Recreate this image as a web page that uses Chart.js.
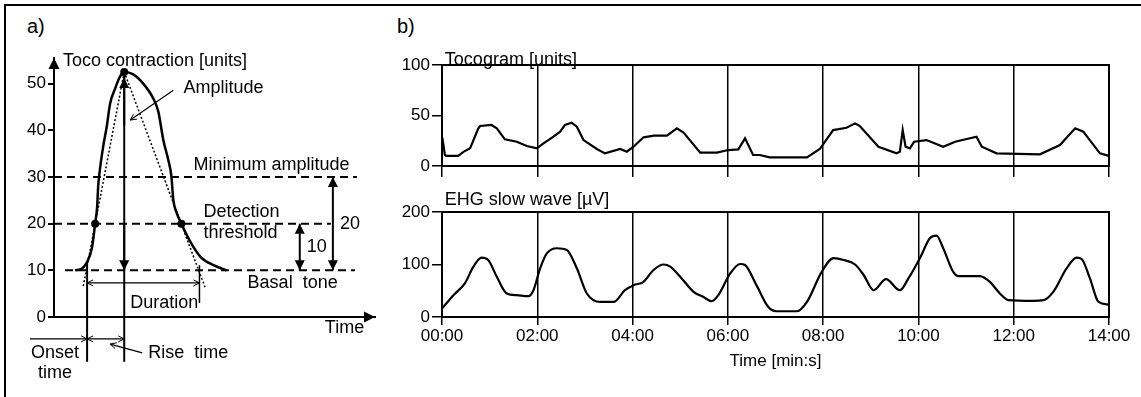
<!DOCTYPE html>
<html>
<head>
<meta charset="utf-8">
<script src="https://cdn.jsdelivr.net/npm/chart.js@4.4.1/dist/chart.umd.min.js"></script>
<style>
  html, body { margin: 0; padding: 0; background: #fff; }
  body { width: 1141px; height: 397px; position: relative; overflow: hidden; font-family: "Liberation Sans", Arial, sans-serif; }
  .frame { position: absolute; left: 4px; top: 4px; width: 1200px; height: 500px; border-left: 2px solid #000; border-top: 2px solid #000; }
  .panel-label { position: absolute; font-size: 20px; line-height: 20px; color: #000; }
  canvas { position: absolute; }
</style>
</head>
<body>
<div class="frame"></div>
<div class="panel-label" style="left:27px; top:16px;">a)</div>
<div class="panel-label" style="left:397px; top:16px;">b)</div>
<canvas id="chart-a" width="380" height="397" style="left:0; top:0;"></canvas>
<canvas id="chart-toco" width="761" height="150" style="left:380px; top:40px;"></canvas>
<canvas id="chart-ehg" width="761" height="207" style="left:380px; top:190px;"></canvas>
<script>
const FONT = '"Liberation Sans", Arial, sans-serif';

// a) schematic contraction (time in arbitrary units, toco in units)
const curveTime = [2.1, 2.8, 3.3, 3.8, 4.1, 4.3, 4.4, 4.5, 4.9, 5.25, 5.6, 6.1, 6.6, 7.0, 7.9, 8.9, 9.9, 10.4, 10.9, 11.4, 11.7, 11.9, 12.2, 12.7, 13.6, 14.6, 15.9, 17.2];
const curveToco = [10, 10.4, 11.8, 15, 20, 23.6, 27.9, 30.2, 36.5, 40.7, 45.8, 49, 51.6, 52.5, 52, 50, 46.8, 44, 37.9, 33.6, 30.2, 25, 22.5, 20, 16.1, 12.9, 11.1, 10];
const levelValues = [30, 20, 10];
const levelStart = [0, 0, 1.1];
const levelEnd = [30.2, 27.6, 30];
const dotTime = [4.1, 12.7, 7.0];
const dotToco = [20, 20, 52.5];
const tangentFootTime = [2.9, 15.05];
const tangentFootToco = 6.4;
const onsetTime = 3.3;
const peakTime = 7.0;
const peakToco = 52.5;
const endTime = 14.5;
const yTicksA = [0, 10, 20, 30, 40, 50];

// b) recordings (time in minutes)
const timeLabels = ["00:00", "02:00", "04:00", "06:00", "08:00", "10:00", "12:00", "14:00"];
const tocoTime = [0, 0.01, 0.06, 0.09, 0.34, 0.45, 0.59, 0.69, 0.76, 0.8, 1.04, 1.15, 1.32, 1.57, 1.78, 1.99, 2.13, 2.34, 2.48, 2.58, 2.72, 2.83, 2.97, 3.25, 3.42, 3.74, 3.88, 4.02, 4.23, 4.45, 4.72, 4.93, 5.07, 5.42, 5.77, 6.01, 6.22, 6.36, 6.53, 6.67, 6.88, 7.66, 7.93, 8.21, 8.49, 8.67, 8.77, 9.16, 9.54, 9.61, 9.67, 9.73, 9.82, 9.91, 10.17, 10.52, 10.77, 11.22, 11.33, 11.64, 12.55, 12.97, 13.29, 13.46, 13.81, 14];
const tocoValue = [28, 27.4, 10.9, 10, 10, 14, 17.5, 29, 37, 39.6, 40.6, 37.3, 26.4, 24, 19.8, 17.5, 22.4, 29, 34, 40.6, 42.9, 38.9, 25.7, 16.8, 12.5, 16.8, 14.2, 19.1, 28.4, 30, 30, 37.3, 33, 13.2, 13.2, 15.8, 16.5, 27.4, 10.9, 10.9, 8.6, 8.6, 16.8, 35.6, 37.9, 42.2, 39.6, 19.1, 12.5, 14, 35.6, 19.1, 17.5, 24, 25.7, 19.1, 24, 29, 19.1, 12.5, 11.6, 20.8, 37.3, 34, 12.5, 9.9];
const ehgTime = [0, 0.24, 0.48, 0.66, 0.83, 0.97, 1.15, 1.36, 1.57, 1.81, 1.92, 2.06, 2.2, 2.41, 2.62, 2.83, 3.04, 3.32, 3.6, 3.84, 4.02, 4.23, 4.44, 4.65, 4.79, 5.0, 5.28, 5.49, 5.66, 5.8, 6.05, 6.26, 6.36, 6.6, 6.85, 7.02, 7.45, 7.66, 7.97, 8.22, 8.43, 8.67, 8.85, 9.06, 9.32, 9.61, 9.79, 10.03, 10.24, 10.38, 10.52, 10.73, 10.84, 11.29, 11.5, 11.71, 11.89, 12.41, 12.62, 12.83, 13.11, 13.32, 13.43, 13.6, 13.78, 14];
const ehgValue = [16, 41.6, 64, 96, 113, 108.6, 76.6, 44.8, 41.6, 39.7, 51, 92.7, 121, 131, 127.8, 92.7, 44.8, 28.7, 28.7, 51, 60.7, 67, 89.5, 100, 96, 76.6, 48, 38, 30, 41.6, 83, 101, 99, 60.7, 19, 11, 11, 28.7, 86, 112, 108.6, 100, 80, 51, 72, 51, 73.5, 112, 150, 155, 131, 86, 78, 78, 67, 44.8, 32, 30.7, 32, 48, 92.7, 113, 110, 73.5, 28.7, 23.7];

const points = (xs, ys) => xs.map((x, i) => ({ x, y: ys[i] }));

function arrowHead(ctx, x1, y1, x2, y2, len, half, filled) {
  const a = Math.atan2(y2 - y1, x2 - x1);
  const bx = x2 - len * Math.cos(a);
  const by = y2 - len * Math.sin(a);
  const nx = -Math.sin(a) * half;
  const ny = Math.cos(a) * half;
  ctx.beginPath();
  if (filled) {
    ctx.moveTo(x2, y2);
    ctx.lineTo(bx + nx, by + ny);
    ctx.lineTo(bx - nx, by - ny);
    ctx.closePath();
    ctx.fill();
  } else {
    ctx.moveTo(bx + nx, by + ny);
    ctx.lineTo(x2, y2);
    ctx.lineTo(bx - nx, by - ny);
    ctx.stroke();
  }
}

// segment: [t1, v1, t2, v2, headStart, headEnd, filled, width]
function drawSegments(chart, segments) {
  const { ctx, scales: { x, y } } = chart;
  ctx.save();
  ctx.strokeStyle = "#000";
  ctx.fillStyle = "#000";
  segments.forEach(([t1, v1, t2, v2, hs, he, filled, w]) => {
    const x1 = x.getPixelForValue(t1), y1 = y.getPixelForValue(v1);
    const x2 = x.getPixelForValue(t2), y2 = y.getPixelForValue(v2);
    ctx.lineWidth = w;
    ctx.beginPath();
    ctx.moveTo(x1, y1);
    ctx.lineTo(x2, y2);
    ctx.stroke();
    const len = filled ? 10 : 6;
    const half = filled ? 5 : 3;
    ctx.lineWidth = 1;
    if (hs) arrowHead(ctx, x2, y2, x1, y1, len, half, filled);
    if (he) arrowHead(ctx, x1, y1, x2, y2, len, half, filled);
  });
  ctx.restore();
}

// text: [string, t, v, align]
function drawTexts(chart, texts, size) {
  const { ctx, scales: { x, y } } = chart;
  ctx.save();
  ctx.fillStyle = "#000";
  ctx.font = size + "px " + FONT;
  ctx.textBaseline = "middle";
  texts.forEach(([s, t, v, align]) => {
    ctx.textAlign = align || "left";
    ctx.fillText(s, x.getPixelForValue(t), y.getPixelForValue(v));
  });
  ctx.restore();
}

const schematicPlugin = {
  id: "schematic",
  afterDatasetsDraw(chart) {
    const { ctx, chartArea } = chart;
    ctx.save();
    ctx.fillStyle = "#000";
    arrowHead(ctx, chartArea.left, chartArea.top + 12, chartArea.left, chartArea.top, 11, 5.5, true);
    arrowHead(ctx, chartArea.right - 12, chartArea.bottom, chartArea.right, chartArea.bottom, 11, 5.5, true);
    ctx.restore();

    drawSegments(chart, [
      [peakTime, peakToco, peakTime, -9.6, false, false, true, 2],
      [peakTime, 41, peakTime, 51.2, false, true, true, 2],
      [peakTime, 20, peakTime, 10, false, true, true, 2],
      [onsetTime, 11.6, onsetTime, -9.6, false, false, false, 2],
      [endTime, 11.1, endTime, 3, false, false, false, 1.5],
      [onsetTime, 7.3, endTime, 7.3, true, true, false, 1.2],
      [-2.4, -4.7, onsetTime, -4.7, false, true, false, 1.2],
      [onsetTime, -4.7, peakTime, -4.7, true, true, false, 1.2],
      [8.8, -7.7, 5.6, -5.8, false, true, false, 1.2],
      [11.9, 48.6, 7.6, 42.2, false, true, false, 1.2],
      [24.5, 20, 24.5, 10, true, true, true, 2],
      [27.8, 30, 27.8, 10, true, true, true, 2],
    ]);

    drawTexts(chart, [
      ["Toco contraction [units]", 0.9, 54.8],
      ["Amplitude", 12.9, 49],
      ["Minimum amplitude", 13.9, 32.6],
      ["Detection", 14.9, 22.4],
      ["threshold", 14.9, 18],
      ["10", 25.2, 15],
      ["20", 28.5, 20],
      ["Basal  tone", 19.3, 7.3],
      ["Duration", 7.6, 3],
      ["Time", 27, -2.4],
      ["Onset", 0.1, -7.7, "center"],
      ["time", 0.1, -12, "center"],
      ["Rise  time", 9.4, -7.7],
    ], 18);
  },
};

new Chart(document.getElementById("chart-a"), {
  type: "line",
  data: {
    datasets: [
      {
        data: points(curveTime, curveToco),
        borderColor: "#000",
        borderWidth: 2.5,
        pointRadius: 0,
        cubicInterpolationMode: "monotone",
      },
      {
        data: [{ x: peakTime, y: peakToco }, { x: tangentFootTime[0], y: tangentFootToco }],
        borderColor: "#000",
        borderWidth: 1.5,
        borderDash: [2, 2],
        pointRadius: 0,
      },
      {
        data: [{ x: peakTime, y: peakToco }, { x: tangentFootTime[1], y: tangentFootToco }],
        borderColor: "#000",
        borderWidth: 1.5,
        borderDash: [2, 2],
        pointRadius: 0,
      },
      ...levelValues.map((v, i) => ({
        data: [{ x: levelStart[i], y: v }, { x: levelEnd[i], y: v }],
        borderColor: "#000",
        borderWidth: 2,
        borderDash: [8, 5],
        pointRadius: 0,
      })),
      {
        data: points(dotTime, dotToco),
        showLine: false,
        pointRadius: 4,
        pointBackgroundColor: "#000",
        pointBorderWidth: 0,
      },
    ],
  },
  options: {
    responsive: false,
    animation: false,
    layout: { padding: { left: 0, right: 5, top: 58, bottom: 0 } },
    plugins: { legend: { display: false }, tooltip: { enabled: false } },
    scales: {
      x: {
        type: "linear",
        min: 0,
        max: 32,
        ticks: { display: false },
        grid: { display: false },
        border: { color: "#000", width: 2 },
        afterFit: (s) => { s.height = 80; },
      },
      y: {
        type: "linear",
        min: 0,
        max: 55.5,
        afterBuildTicks: (s) => { s.ticks = yTicksA.map((value) => ({ value })); },
        ticks: { color: "#000", font: { size: 17, family: FONT }, padding: 2 },
        grid: { drawOnChartArea: false, color: "#000", lineWidth: 2, tickLength: 6 },
        border: { color: "#000", width: 2 },
        afterFit: (s) => { s.width = 54; },
      },
    },
  },
  plugins: [schematicPlugin],
});

const framePlugin = {
  id: "frame",
  afterDraw(chart, args, opts) {
    const { ctx, chartArea } = chart;
    ctx.save();
    ctx.strokeStyle = "#000";
    ctx.lineWidth = 2;
    ctx.strokeRect(chartArea.left, chartArea.top, chartArea.right - chartArea.left, chartArea.bottom - chartArea.top);
    ctx.restore();
    drawTexts(chart, [[opts.title, 0.06, opts.titleY]], 18);
  },
};

function traceChart(id, times, values, yMax, yStep, titleText, titleY, tension, showTimes) {
  return new Chart(document.getElementById(id), {
    type: "line",
    data: {
      datasets: [{
        data: points(times, values),
        borderColor: "#000",
        borderWidth: 2.2,
        pointRadius: 0,
        tension: tension,
        cubicInterpolationMode: tension ? "monotone" : "default",
      }],
    },
    options: {
      responsive: false,
      animation: false,
      layout: { padding: { left: 0, right: 32, top: showTimes ? 22 : 25, bottom: 0 } },
      plugins: {
        legend: { display: false },
        tooltip: { enabled: false },
        frame: { title: titleText, titleY: titleY },
      },
      scales: {
        x: {
          type: "linear",
          min: 0,
          max: 14,
          ticks: {
            display: showTimes,
            stepSize: 2,
            color: "#000",
            padding: 1,
            maxRotation: 0,
            autoSkip: false,
            font: { size: 17, family: FONT },
            callback: (v) => timeLabels[v / 2],
          },
          grid: { color: "#000", lineWidth: 1.5, tickLength: showTimes ? 8 : 11 },
          border: { color: "#000", width: 2 },
          title: {
            display: showTimes,
            text: "Time [min:s]",
            color: "#000",
            font: { size: 17, family: FONT },
            padding: { top: 0, bottom: 25 },
          },
          afterFit: (s) => { s.height = showTimes ? 80 : 24; },
        },
        y: {
          type: "linear",
          min: 0,
          max: yMax,
          ticks: { stepSize: yStep, color: "#000", padding: 2, font: { size: 17, family: FONT } },
          grid: { drawOnChartArea: false, color: "#000", lineWidth: 1.5, tickLength: 10 },
          border: { color: "#000", width: 2 },
          afterFit: (s) => { s.width = 62; },
        },
      },
    },
    plugins: [framePlugin],
  });
}

traceChart("chart-toco", tocoTime, tocoValue, 100, 50, "Tocogram [units]", 105, 0, false);
traceChart("chart-ehg", ehgTime, ehgValue, 200, 100, "EHG slow wave [\u00b5V]", 223, 0.4, true);
</script>
</body>
</html>
